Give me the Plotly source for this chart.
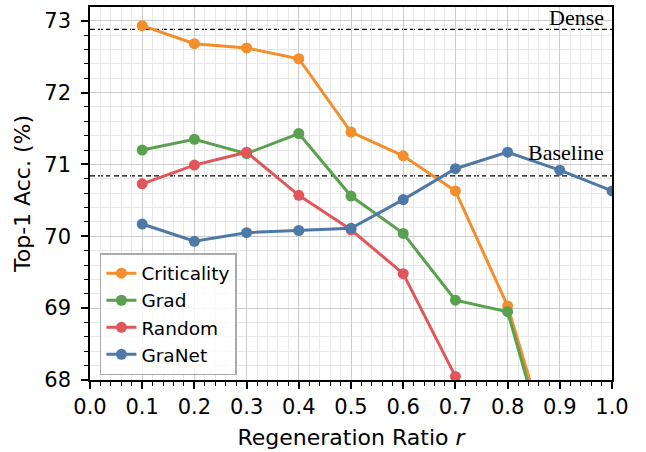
import plotly.graph_objects as go

ratios = [0.1, 0.2, 0.3, 0.4, 0.5, 0.6, 0.7, 0.8, 0.9, 1.0]
criticality = [72.93, 72.68, 72.62, 72.47, 71.45, 71.12, 70.63, 69.03, 66.6, None]
grad = [71.20, 71.35, 71.15, 71.43, 70.56, 70.04, 69.11, 68.95, 66.4, None]
random_ = [70.73, 70.99, 71.17, 70.57, 70.09, 69.48, 68.05, None, None, None]
granet = [70.17, 69.93, 70.05, 70.08, 70.11, 70.51, 70.94, 71.17, 70.92, 70.63]

series_names = ["Criticality", "Grad", "Random", "GraNet"]
series_values = [criticality, grad, random_, granet]
colors = ["#F28E2B", "#59A14F", "#E15759", "#4E79A7"]

ref_names = ["Dense", "Baseline"]
ref_values = [72.88, 70.84]

x_ticks = [0.0, 0.1, 0.2, 0.3, 0.4, 0.5, 0.6, 0.7, 0.8, 0.9, 1.0]
y_ticks = [68, 69, 70, 71, 72, 73]

fig = go.Figure()
for name, vals, col in zip(series_names, series_values, colors):
    fig.add_trace(go.Scatter(
        x=ratios, y=vals, name=name, mode="lines+markers",
        line=dict(color=col, width=3),
        marker=dict(color=col, size=11),
        connectgaps=False,
    ))

for name, val, dy in zip(ref_names, ref_values, [0.165, 0.33]):
    fig.add_shape(type="line", xref="paper", yref="y", x0=0, x1=1, y0=val, y1=val,
                  line=dict(color="black", width=1.3, dash="5px,3px"), layer="between")
    fig.add_annotation(x=0.988, xref="paper", y=val + dy, yref="y", text=name,
                       showarrow=False, xanchor="right", yanchor="middle",
                       font=dict(family="Liberation Serif", size=22, color="black"))

axis_common = dict(
    showline=True, linecolor="black", linewidth=1.5, mirror=True,
    ticks="outside", ticklen=7, tickwidth=1.5, tickcolor="black",
    showgrid=True, gridcolor="#cccccc", gridwidth=1.2,
    zeroline=False, automargin=False,
    tickfont=dict(family="DejaVu Sans", size=21, color="black"),
)

fig.update_xaxes(
    range=[0, 1], tickvals=x_ticks, ticktext=[f"{v:.1f}" for v in x_ticks],
    title=dict(text="Regeneration Ratio <i>r</i>", font=dict(family="DejaVu Sans", size=22, color="black"), standoff=12),
    minor=dict(dtick=0.02, tick0=0, ticks="outside", ticklen=4, tickwidth=1.2, tickcolor="black",
               showgrid=True, gridcolor="#e8e8e8", gridwidth=1),
    ticklabelstandoff=0,
    **axis_common,
)
fig.update_yaxes(
    range=[68, 73.19], tickvals=y_ticks, ticktext=[str(v) for v in y_ticks],
    title=dict(text="Top-1 Acc. (%)", font=dict(family="DejaVu Sans", size=22, color="black"), standoff=8),
    minor=dict(dtick=0.2, tick0=68, ticks="outside", ticklen=4, tickwidth=1.2, tickcolor="black",
               showgrid=True, gridcolor="#e8e8e8", gridwidth=1),
    ticklabelstandoff=6,
    **axis_common,
)

fig.update_layout(
    width=646, height=452,
    margin=dict(l=90, r=34, t=7, b=72),
    plot_bgcolor="white", paper_bgcolor="white",
    font=dict(family="DejaVu Sans", color="black"),
    legend=dict(x=0.019, y=0.34, xanchor="left", yanchor="top",
                bgcolor="rgba(255,255,255,0.8)", bordercolor="#aaaaaa", borderwidth=1.5,
                font=dict(family="DejaVu Sans", size=18.5, color="black"),
                itemwidth=30, tracegroupgap=0),
    showlegend=True,
)

fig.write_html("out.html", config={"displayModeBar": False},
               post_script="document.body.style.margin='0';document.body.style.padding='0';")
